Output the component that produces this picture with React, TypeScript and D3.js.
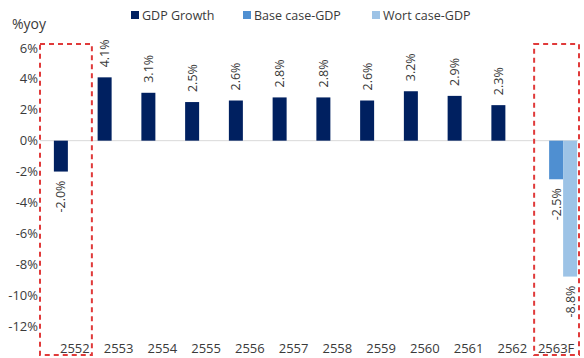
import React from "react";
import * as d3 from "d3";

const categories = ["2552", "2553", "2554", "2555", "2556", "2557", "2558", "2559", "2560", "2561", "2562", "2563F"];
const seriesNames = ["GDP Growth", "Base case-GDP", "Wort case-GDP"];
const gdpGrowth: (number | null)[] = [-2.0, 4.1, 3.1, 2.5, 2.6, 2.8, 2.8, 2.6, 3.2, 2.9, 2.3, null];
const baseCase: (number | null)[] = [null, null, null, null, null, null, null, null, null, null, null, -2.5];
const worstCase: (number | null)[] = [null, null, null, null, null, null, null, null, null, null, null, -8.8];
const yTicks = [6, 4, 2, 0, -2, -4, -6, -8, -10, -12];
const highlighted = ["2552", "2563F"];

const colors = ["#002060", "#4f8fd1", "#9dc3e6"];
const W = 584;
const H = 358;
const font = "'Open Sans', sans-serif";
const textColor = "#3a3a3a";

export default function App() {
  const x = d3.scaleBand<string>().domain(categories).range([53, 578]).paddingInner(0.04).paddingOuter(0.02);
  const sub = d3.scaleBand<string>().domain(seriesNames).range([0, x.bandwidth()]);
  const y = d3.scaleLinear().domain([-12, 6]).range([326, 48]);
  const allSeries = [gdpGrowth, baseCase, worstCase];
  const y0 = y(0);

  const legendX = [131, 243, 372];

  return (
    <svg width={W} height={H} style={{ position: "absolute", left: 0, top: 0, background: "#fff" }} fontFamily={font}>
      <rect width={W} height={H} fill="#fff" />
      {/* title */}
      <text x={12} y={29} fontSize={14} fill={textColor}>%yoy</text>
      {/* legend */}
      {seriesNames.map((s, i) => (
        <g key={s}>
          <rect x={legendX[i]} y={11} width={8} height={8} fill={colors[i]} />
          <text x={legendX[i] + 11} y={19.5} fontSize={12.5} fill={textColor}>{s}</text>
        </g>
      ))}
      {/* y tick labels */}
      {yTicks.map((t) => (
        <text key={t} x={38} y={y(t)} dy="0.35em" textAnchor="end" fontSize={13} fill={textColor}>
          {t + "%"}
        </text>
      ))}
      {/* zero line */}
      <line x1={40} x2={578} y1={y0} y2={y0} stroke="#d9d9d9" strokeWidth={1} />
      {/* bars and labels */}
      {allSeries.map((vals, si) =>
        vals.map((v, ci) => {
          if (v === null) return null;
          const cx = (x(categories[ci]) as number) + (sub(seriesNames[si]) as number);
          const bw = sub.bandwidth();
          const yv = y(v);
          const top = Math.min(yv, y0);
          const h = Math.abs(yv - y0);
          const mid = cx + bw / 2;
          const ly = v >= 0 ? yv - 10 : yv + 9;
          return (
            <g key={si + "-" + ci}>
              <rect x={cx} y={top} width={bw} height={h} fill={colors[si]} />
              <text
                transform={`translate(${mid},${ly}) rotate(-90)`}
                dy="0.35em"
                textAnchor={v >= 0 ? "start" : "end"}
                fontSize={12.5}
                fill={textColor}
              >
                {v.toFixed(1) + "%"}
              </text>
            </g>
          );
        })
      )}
      {/* x labels */}
      {categories.map((c) => (
        <text key={c} x={(x(c) as number) + x.bandwidth() / 2} y={348} dy="0.35em" textAnchor="middle" fontSize={13} fill={textColor}>
          {c}
        </text>
      ))}
      {/* highlight boxes */}
      {highlighted.map((c) => {
        const bx = x(c) as number;
        const isFirst = c === categories[0];
        const left = isFirst ? 40 : bx - 1;
        const right = isFirst ? bx + x.bandwidth() - 4 : 579;
        return (
          <rect
            key={c}
            x={left}
            y={44}
            width={right - left}
            height={311}
            fill="none"
            stroke="#e03a3a"
            strokeWidth={2}
            strokeDasharray="5,4"
          />
        );
      })}
    </svg>
  );
}
